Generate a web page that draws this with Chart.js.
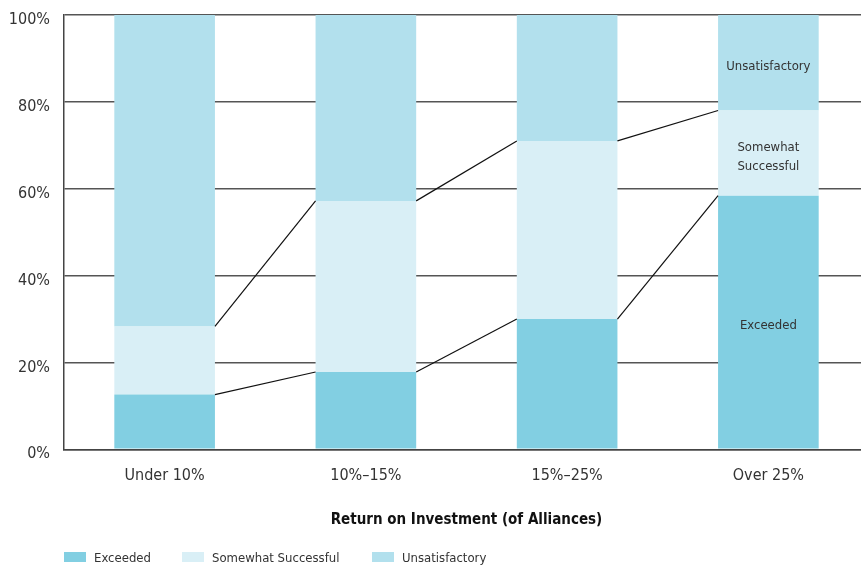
<!DOCTYPE html>
<html>
<head>
<meta charset="utf-8">
<script src="https://cdn.jsdelivr.net/npm/chart.js@4"></script>
<style>
html, body { margin: 0; padding: 0; background: #fff; overflow: hidden; }
#wrap { position: relative; width: 869px; height: 569px; }
#legend { position: absolute; left: 64px; top: 548px; width: 600px; height: 18px;
  font: 13px 'DejaVu Sans Condensed', 'Liberation Sans Narrow', sans-serif; color: #333; }
.item { position: absolute; top: 0; display: flex; align-items: center; height: 18px; }
.box { width: 22px; height: 10px; margin-right: 8px; }
</style>
</head>
<body>
<div id="wrap">
  <canvas id="grafica" width="869" height="569"></canvas>
  <div id="legend"></div>
</div>
<script>
// datos (porcentaje de alianzas)
const categorias = ['Under 10%', '10%–15%', '15%–25%', 'Over 25%'];
const exceeded = [12.6, 17.8, 30.0, 58.4];
const somewhat = [15.7, 39.4, 41.0, 19.6];
const unsatisfactory = [71.7, 42.8, 29.0, 22.0];
const serieNombres = ['Exceeded', 'Somewhat Successful', 'Unsatisfactory'];
const etiquetasBarra = [['Exceeded'], ['Somewhat', 'Successful'], ['Unsatisfactory']];
const colores = ['#82cfe2', '#d9eff6', '#b2e0ed'];
const yTicks = [0, 20, 40, 60, 80, 100];

const fuente = "'DejaVu Sans Condensed', 'Liberation Sans Narrow', sans-serif";

// lineas entre barras y etiquetas dentro de la ultima barra
const extras = {
    id: 'extras',
    afterDatasetsDraw(chart) {
        const ctx = chart.ctx;
        ctx.save();
        ctx.strokeStyle = '#111';
        ctx.lineWidth = 1.2;
        [0, 1].forEach(d => {
            const bars = chart.getDatasetMeta(d).data;
            for (let i = 0; i < bars.length - 1; i++) {
                const a = bars[i], b = bars[i + 1];
                ctx.beginPath();
                ctx.moveTo(a.x + a.width / 2, a.y);
                ctx.lineTo(b.x - b.width / 2, b.y);
                ctx.stroke();
            }
        });
        ctx.fillStyle = '#333';
        ctx.font = '13px ' + fuente;
        ctx.textAlign = 'center';
        ctx.textBaseline = 'middle';
        etiquetasBarra.forEach((lineas, d) => {
            const bars = chart.getDatasetMeta(d).data;
            const el = bars[bars.length - 1];
            const mid = (el.y + el.base) / 2 + 4;
            lineas.forEach((t, k) => {
                ctx.fillText(t, el.x, mid + (k - (lineas.length - 1) / 2) * 19);
            });
        });
        ctx.restore();
    }
};

const datos = [exceeded, somewhat, unsatisfactory];

new Chart(document.getElementById('grafica').getContext('2d'), {
    type: 'bar',
    data: {
        labels: categorias,
        datasets: datos.map((d, i) => ({
            label: serieNombres[i],
            data: d,
            backgroundColor: colores[i],
            borderWidth: 0,
            barPercentage: 0.5,
            categoryPercentage: 1
        }))
    },
    options: {
        responsive: false,
        animation: false,
        layout: { padding: { top: 15, right: 0, left: 0, bottom: 0 } },
        plugins: {
            legend: { display: false },
            tooltip: { enabled: false }
        },
        scales: {
            x: {
                stacked: true,
                grid: { display: false, drawTicks: false },
                border: { display: true, color: '#444', width: 1.5 },
                ticks: { color: '#333', font: { family: fuente, size: 16 }, padding: 17 },
                title: {
                    display: true,
                    text: 'Return on Investment (of Alliances)',
                    color: '#111',
                    font: { family: fuente, size: 15, weight: 'bold' },
                    padding: { top: 8.5, bottom: 40 }
                }
            },
            y: {
                stacked: true,
                min: 0,
                max: 100,
                afterFit(scale) {
                    scale.width = 64;
                    scale.paddingTop = 0;
                    scale.paddingBottom = 0;
                },
                afterBuildTicks(scale) { scale.ticks = yTicks.map(v => ({ value: v })); },
                grid: { color: '#555', lineWidth: 1.5, drawTicks: false },
                border: { display: true, color: '#444', width: 1.5 },
                ticks: {
                    color: '#333',
                    font: { family: fuente, size: 16 },
                    padding: 14,
                    labelOffset: 5,
                    callback: v => v + '%'
                }
            }
        }
    },
    plugins: [extras]
});

// leyenda
const leyenda = document.getElementById('legend');
const posLeyenda = [0, 118, 308];
serieNombres.forEach((n, i) => {
    const it = document.createElement('div');
    it.className = 'item';
    it.style.left = posLeyenda[i] + 'px';
    it.innerHTML = '<div class="box" style="background:' + colores[i] + '"></div><span>' + n + '</span>';
    leyenda.appendChild(it);
});
</script>
</body>
</html>
